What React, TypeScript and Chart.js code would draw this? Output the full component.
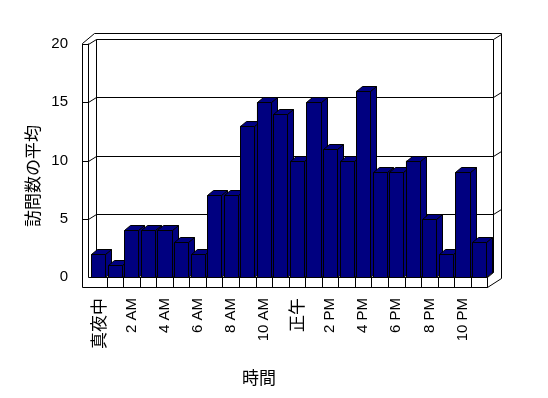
import React, { useEffect, useRef } from 'react';
import { Chart, registerables } from 'chart.js';

Chart.register(...registerables);

// ---- data ----
const hourLabels = [
  '真夜中', '1 AM', '2 AM', '3 AM', '4 AM', '5 AM', '6 AM', '7 AM', '8 AM', '9 AM', '10 AM', '11 AM',
  '正午', '1 PM', '2 PM', '3 PM', '4 PM', '5 PM', '6 PM', '7 PM', '8 PM', '9 PM', '10 PM', '11 PM',
];
const avgVisits = [2, 1, 4, 4, 4, 3, 2, 7, 7, 13, 15, 14, 10, 15, 11, 10, 16, 9, 9, 10, 5, 2, 9, 3];
const yTickValues = [0, 5, 10, 15, 20];
const xTitle = '時間';
const yTitle = '訪問数の平均';

// ---- styles ----
const BAR = '#000080';
const LATIN = "'Liberation Sans', Arial, sans-serif";
const CJK = "'Noto Sans CJK JP', sans-serif";
const hasCJK = (s: string) => /[\u3000-\u9fff]/.test(s);
const px = (v: number) => Math.round(v) + 0.5;

const frame3d = {
  id: 'frame3d',
  beforeDatasetsDraw(chart: any) {
    const { ctx, chartArea, scales } = chart;
    const L = chartArea.left, R = chartArea.right, T = chartArea.top, B = chartArea.bottom;
    const xs = scales.x, ys = scales.y;
    ctx.save();
    ctx.strokeStyle = '#000';
    ctx.lineWidth = 1;
    const line = (pts: number[][]) => {
      ctx.beginPath();
      pts.forEach(([a, b], i) => (i ? ctx.lineTo(px(a), px(b)) : ctx.moveTo(px(a), px(b))));
      ctx.stroke();
    };
    // outer box
    line([[L - 8, T - 1], [L + 4, T - 11], [R + 14, T - 11], [R + 14, B + 1], [R, B + 10], [L - 8, B + 10], [L - 8, T - 1]]);
    // left wall inner edge
    line([[L - 2, T - 1], [L - 2, B]]);
    // back wall face
    line([[L + 6, T - 5], [L + 6, B - 5], [R + 6, B - 5], [R + 6, T - 5]]);
    // floor top edge
    line([[L - 2, B], [R, B], [R, B + 10]]);
    line([[R, B], [R + 6, B - 5]]);
    // gridlines
    yTickValues.forEach((v) => {
      if (v === 0) return;
      const yf = ys.getPixelForValue(v);
      line([[L - 8, yf], [L - 2, yf], [L + 6, yf - 5], [R + 6, yf - 5], [R + 14, yf - 10]]);
    });
    // category tick marks on floor front
    const n = hourLabels.length;
    const catW = xs.getPixelForValue(1) - xs.getPixelForValue(0);
    for (let i = 0; i < n; i++) {
      const bx = xs.getPixelForValue(i) + catW / 2;
      line([[bx, B], [bx, B + 10]]);
    }
    ctx.restore();
  },
  afterDatasetsDraw(chart: any) {
    const { ctx } = chart;
    const meta = chart.getDatasetMeta(0);
    const dx = 6, dy = -5;
    ctx.save();
    ctx.strokeStyle = '#000';
    ctx.fillStyle = BAR;
    ctx.lineWidth = 1;
    meta.data.forEach((bar: any) => {
      const { x, y, base, width } = bar.getProps(['x', 'y', 'base', 'width'], true);
      const l = Math.round(x - width / 2), r = Math.round(x + width / 2);
      const t = Math.round(y), b = Math.round(base);
      const poly = (pts: number[][]) => {
        ctx.beginPath();
        pts.forEach(([a, c], i) => (i ? ctx.lineTo(a + 0.5, c + 0.5) : ctx.moveTo(a + 0.5, c + 0.5)));
        ctx.closePath();
        ctx.fill();
        ctx.stroke();
      };
      poly([[r, t], [r + dx, t + dy], [r + dx, b + dy], [r, b]]);
      poly([[l, t], [l + dx, t + dy], [r + dx, t + dy], [r, t]]);
      poly([[l, t], [r, t], [r, b], [l, b]]);
    });
    ctx.restore();
  },
  afterDraw(chart: any) {
    const { ctx } = chart;
    ctx.save();
    ctx.fillStyle = '#000';
    ctx.font = `17px ${CJK}`;
    ctx.textAlign = 'center';
    ctx.textBaseline = 'middle';
    ctx.fillText(xTitle, 259, 378);
    ctx.translate(33, 176);
    ctx.rotate(-Math.PI / 2);
    ctx.fillText(yTitle, 0, 0);
    ctx.restore();
  },
};

export default function App() {
  const ref = useRef<HTMLCanvasElement>(null);
  useEffect(() => {
    document.body.style.margin = '0';
    const canvas = ref.current!;
    const chart = new Chart(canvas, {
      type: 'bar',
      data: {
        labels: hourLabels,
        datasets: [
          {
            data: avgVisits,
            backgroundColor: BAR,
            borderColor: '#000',
            borderWidth: 1,
            barPercentage: 0.85,
            categoryPercentage: 1,
          },
        ],
      },
      options: {
        responsive: false,
        animation: false,
        devicePixelRatio: 1,
        layout: { padding: { top: 44, right: 60.7, left: 0, bottom: 0 } },
        plugins: { legend: { display: false }, tooltip: { enabled: false } },
        scales: {
          x: {
            grid: { display: false, drawTicks: false },
            border: { display: false },
            afterFit: (s: any) => { s.height = 121; },
            ticks: {
              autoSkip: false,
              minRotation: 90,
              maxRotation: 90,
              padding: 21,
              color: '#000',
              callback: (_v: any, i: number) => (i % 2 === 0 ? hourLabels[i] : ''),
              font: (c: any) => {
                const s = hourLabels[c.index] || '';
                return hasCJK(s) ? { family: CJK, size: 17 } : { family: LATIN, size: 15 };
              },
            },
          },
          y: {
            min: 0,
            max: 20,
            grid: { display: false, drawTicks: false },
            border: { display: false },
            afterFit: (s: any) => { s.width = 90; },
            afterBuildTicks: (s: any) => { s.ticks = yTickValues.map((v) => ({ value: v })); },
            ticks: { padding: 22, color: '#000', font: { family: LATIN, size: 15 } },
          },
        },
      },
      plugins: [frame3d],
    });
    return () => chart.destroy();
  }, []);
  return <canvas ref={ref} width={548} height={398} style={{ display: 'block', width: 548, height: 398 }} />;
}
